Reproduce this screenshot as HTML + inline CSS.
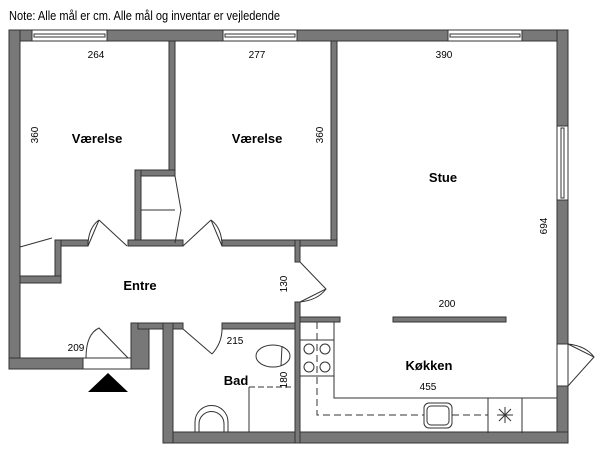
<!DOCTYPE html>
<html><head><style>
html,body{margin:0;padding:0;background:#fff;}
svg{display:block;font-family:"Liberation Sans","DejaVu Sans",sans-serif;}
</style></head><body>
<svg width="600" height="453" viewBox="0 0 600 453" xmlns="http://www.w3.org/2000/svg">
<text x="9" y="20" font-size="12.5" fill="#000" textLength="271" lengthAdjust="spacingAndGlyphs">Note: Alle mål er cm. Alle mål og inventar er vejledende</text>
<g fill="#787878" stroke="#333" stroke-width="1">
<rect x="9" y="30" width="559" height="11"/>
<rect x="9" y="30" width="11" height="339"/>
<rect x="557" y="30" width="11" height="413"/>
<rect x="163" y="432" width="405" height="11"/>
<rect x="9" y="358" width="74" height="11"/>
<rect x="131" y="323" width="18" height="46"/>
<rect x="138" y="323" width="45" height="6"/>
<rect x="163" y="323" width="10" height="120"/>
<rect x="222" y="323" width="78" height="6"/>
<rect x="295" y="302" width="5" height="141"/>
<rect x="300" y="317" width="40" height="5"/>
<rect x="393" y="317" width="113" height="5"/>
<rect x="169" y="41" width="6" height="135"/>
<rect x="135" y="170" width="40" height="6"/>
<rect x="135" y="170" width="6" height="76"/>
<rect x="331" y="41" width="6" height="205"/>
<rect x="222" y="240" width="115" height="6"/>
<rect x="295" y="240" width="5" height="22"/>
<rect x="128" y="240" width="55" height="6"/>
<rect x="55" y="240" width="33" height="6"/>
<rect x="55" y="240" width="6" height="43"/>
<rect x="20" y="276" width="41" height="7"/>
</g>
<g fill="#fff" stroke="#333" stroke-width="1">
<rect x="32" y="30" width="75" height="11"/><rect x="34" y="34" width="71" height="3"/>
<rect x="223" y="30" width="74" height="11"/><rect x="225" y="34" width="70" height="3"/>
<rect x="448" y="30" width="74" height="11"/><rect x="450" y="34" width="70" height="3"/>
<rect x="557" y="126" width="11" height="74"/><rect x="561" y="128" width="3" height="70"/>
<rect x="557" y="344" width="11" height="42"/>
<rect x="83" y="358" width="48" height="11"/>
</g>
<g fill="none" stroke="#333" stroke-width="1">
<line x1="141" y1="210" x2="175" y2="210"/>
<polyline points="175,176 181,210 175,243"/>
<line x1="20" y1="247" x2="52" y2="238"/>
<path d="M88,246 L99,220 M88,246 Q88,228 99,220 M99,220 L127,246"/>
<path d="M222,246 L211,220 M222,246 Q222,228 211,220 M211,220 L183,246"/>
<path d="M300,262 L326,289 L300,302 M326,289 Q318,300 300,302"/>
<path d="M183,329 L212,354 M212,354 Q222,343 222,329"/>
<path d="M86,358 Q86,334 99,328 L128,358"/>
<path d="M568,386 L594,357 L568,344 M594,357 Q586,346 568,344"/>
<polyline points="300,322 334,322 334,398 557,398"/>
<rect x="300" y="340" width="34" height="36"/>
<line x1="488" y1="398" x2="488" y2="433"/>
<line x1="522" y1="398" x2="522" y2="433"/>
<rect x="424" y="403" width="28" height="25" rx="5"/>
<rect x="427" y="406" width="22" height="19" rx="4"/>
<path d="M317,322 V415 H424 M452,415 H488" stroke-dasharray="7,4"/>
<path d="M497,415 H513 M505,407 V423 M499,409 L511,421 M511,409 L499,421"/>
<ellipse cx="273" cy="356" rx="17" ry="11"/>
<line x1="282" y1="346" x2="281" y2="366"/>
<path d="M249,432 V387 H293" stroke-dasharray="6,3"/>
<line x1="249" y1="387" x2="249" y2="432"/>
<path d="M195,432 V422 A16.5,16.5 0 0 1 228,422 V432"/>
<path d="M199,432 V424 A12.5,12.5 0 0 1 224,424 V432"/>
</g>
<g fill="none" stroke="#333">
<circle cx="309" cy="349" r="5"/><circle cx="325" cy="349" r="5"/>
<circle cx="309" cy="367" r="5"/><circle cx="325" cy="367" r="5"/>
</g>
<polygon points="108,373 88,392 128,392" fill="#000"/>
<g font-size="10" fill="#000" text-anchor="middle">
<text x="96" y="58">264</text><text x="257" y="58">277</text><text x="444" y="58">390</text>
<text x="447" y="307">200</text><text x="428" y="390">455</text>
<text x="76" y="351">209</text><text x="235" y="344">215</text>
<text transform="translate(38,135) rotate(-90)">360</text>
<text transform="translate(323,135) rotate(-90)">360</text>
<text transform="translate(547,226) rotate(-90)">694</text>
<text transform="translate(287,284) rotate(-90)">130</text>
<text transform="translate(287,380) rotate(-90)">180</text>
</g>
<g font-size="13" font-weight="bold" fill="#000" text-anchor="middle">
<text x="97" y="143">Værelse</text><text x="257" y="143">Værelse</text>
<text x="443" y="182">Stue</text><text x="140" y="290">Entre</text>
<text x="236" y="385">Bad</text><text x="429" y="370">Køkken</text>
</g>
</svg>
</body></html>
